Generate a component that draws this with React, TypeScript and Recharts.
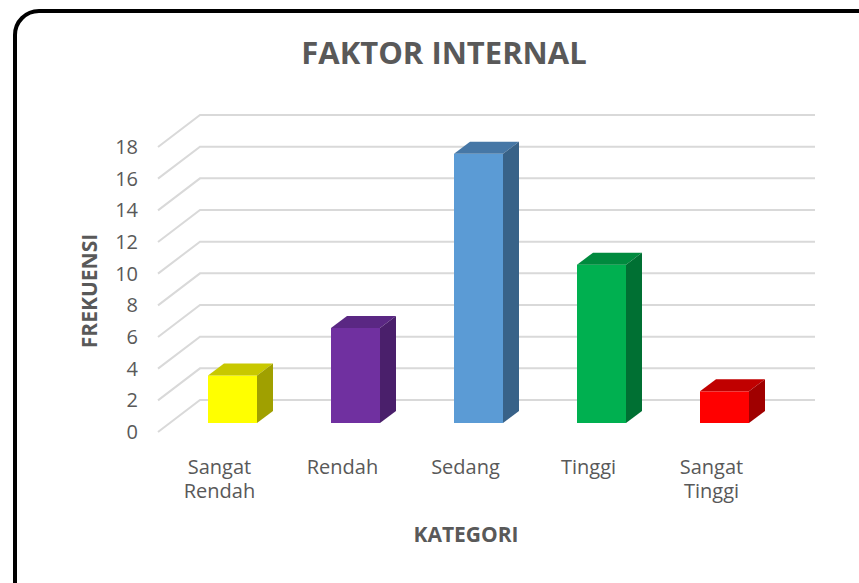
import React from 'react';
import { BarChart, Bar, XAxis, YAxis, CartesianGrid, Customized } from 'recharts';

const categories = ['Sangat Rendah', 'Rendah', 'Sedang', 'Tinggi', 'Sangat Tinggi'];
const frekuensi = [3, 6, 17, 10, 2];
const yTicks = [0, 2, 4, 6, 8, 10, 12, 14, 16, 18];
const frontColors = ['#FFFF00', '#7030A0', '#5B9BD5', '#00B050', '#FF0000'];
const topColors = ['#C8C800', '#5A2783', '#4677A6', '#008A3E', '#C00000'];
const sideColors = ['#A0A000', '#4A1F6B', '#386288', '#007033', '#A00000'];

const data = categories.map((c, i) => ({ kategori: c, frekuensi: frekuensi[i] }));

const FONT = "'Open Sans', sans-serif";
const TEXT = '#595959';

// 3D projection offsets
const WALL_DX = 42;
const WALL_DY = -32;
const BAR_OX = 13;
const BAR_OY = -9;
const DEPTH_DX = 16;
const DEPTH_DY = -12;

const Bar3D = (props: any) => {
  const { x, y, width, height, index } = props;
  if (width == null || height == null) return null;
  const x0 = x + BAR_OX;
  const y0 = y + BAR_OY;
  const w = width;
  const h = height;
  const top = `${x0},${y0} ${x0 + DEPTH_DX},${y0 + DEPTH_DY} ${x0 + w + DEPTH_DX},${y0 + DEPTH_DY} ${x0 + w},${y0}`;
  const side = `${x0 + w},${y0} ${x0 + w + DEPTH_DX},${y0 + DEPTH_DY} ${x0 + w + DEPTH_DX},${y0 + h + DEPTH_DY} ${x0 + w},${y0 + h}`;
  return (
    <g>
      <rect x={x0} y={y0} width={w} height={h} fill={frontColors[index]} />
      <polygon points={top} fill={topColors[index]} />
      <polygon points={side} fill={sideColors[index]} />
    </g>
  );
};

const GridLine = (props: any) => {
  const { x1, y1, x2, index } = props;
  const pts = `${x1},${y1} ${x1 + WALL_DX},${y1 + WALL_DY} ${x2 + WALL_DX},${y1 + WALL_DY}`;
  return <polyline key={`g-${index}`} points={pts} fill="none" stroke="#D9D9D9" strokeWidth={2} />;
};

const CategoryTick = (props: any) => {
  const { x, y, payload } = props;
  const words = String(payload.value).split(' ');
  return (
    <text x={x} y={y} textAnchor="middle" fill={TEXT} fontSize={20} fontFamily={FONT}>
      {words.map((wd, i) => (
        <tspan key={i} x={x} y={y + 34 + i * 24}>
          {wd}
        </tspan>
      ))}
    </text>
  );
};

const Texts = () => (
  <g fontFamily={FONT} fill={TEXT} fontWeight="bold">
    <text x={444} y={64} textAnchor="middle" fontSize={31}>
      FAKTOR INTERNAL
    </text>
    <text x={466} y={542} textAnchor="middle" fontSize={21}>
      KATEGORI
    </text>
    <text
      x={97}
      y={291}
      textAnchor="middle"
      fontSize={21}
      transform="rotate(-90 97 291)"
    >
      FREKUENSI
    </text>
  </g>
);

export default function App() {
  return (
    <div
      style={{
        position: 'absolute',
        left: 0,
        top: 0,
        width: 859,
        height: 583,
        overflow: 'hidden',
        background: '#fff',
      }}
    >
      <div
        style={{
          position: 'absolute',
          left: 13,
          top: 9,
          width: 880,
          height: 600,
          border: '4.5px solid #000',
          borderRadius: 26,
          boxSizing: 'border-box',
        }}
      />
      <div style={{ position: 'absolute', left: 0, top: 0 }}>
        <BarChart
          width={859}
          height={583}
          data={data}
          margin={{ top: 147, right: 86, bottom: 91, left: 98 }}
        >
          <CartesianGrid vertical={false} horizontal={GridLine as any} />
          <XAxis
            dataKey="kategori"
            axisLine={false}
            tickLine={false}
            height={60}
            interval={0}
            tick={CategoryTick as any}
          />
          <YAxis
            width={60}
            domain={[0, 18]}
            ticks={yTicks}
            interval={0}
            axisLine={false}
            tickLine={false}
            tickSize={0}
            tickMargin={20}
            tick={{ fill: TEXT, fontSize: 20, fontFamily: FONT }}
          />
          <Bar
            dataKey="frekuensi"
            barSize={49}
            shape={Bar3D as any}
            isAnimationActive={false}
          />
          <Customized component={Texts} />
        </BarChart>
      </div>
    </div>
  );
}
